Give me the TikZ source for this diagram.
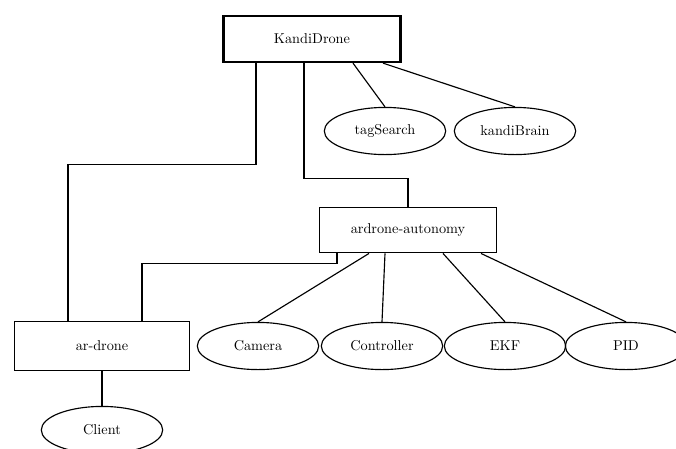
\documentclass[tikz,border=0pt]{standalone}
\usepackage{amsmath}
\usetikzlibrary{calc}
\usetikzlibrary{shapes.geometric}

\begin{document}
\begin{tikzpicture}[x=0.7pt, y=-0.7pt, thick,
    box/.style={draw, rectangle, minimum width=124pt, minimum height=32pt, inner sep=0pt},
    leaf/.style={draw, ellipse, minimum width=85pt, minimum height=33pt, inner sep=0pt}]

\clip (0, 0) rectangle (676, 448);

\begin{scope}[]
\node[box, line width=1.8pt] (kandi) at (312, 39) {KandiDrone};
\node[leaf] (tag) at (385, 131) {tagSearch};
\node[leaf] (brain) at (515, 131) {kandiBrain};
\end{scope}

\begin{scope}[]
\node[box] (auto) at (408, 230) {ardrone-autonomy};
\node[box, minimum width=122pt, minimum height=34pt] (ardrone) at (102, 346) {ar-drone};
\node[leaf] (cam) at (258, 346) {Camera};
\node[leaf] (ctrl) at (382, 346) {Controller};
\node[leaf] (ekf) at (505, 346) {EKF};
\node[leaf] (pid) at (626, 346) {PID};
\node[leaf] (client) at (102, 430) {Client};
\end{scope}

\draw ($(kandi.south)+(41, 0)$) -- (tag.north);
\draw ($(kandi.south)+(71, 0)$) -- (brain.north);
\draw ($(kandi.south)+(-56, 0)$) -- ++(0, 101) -| ($(ardrone.north)+(-34, 0)$);
\draw ($(kandi.south)+(-8, 0)$) -- ++(0, 115) -| (auto.north);

\draw ($(auto.south)+(-71, 0)$) -- ++(0, 10) -| ($(ardrone.north)+(40, 0)$);
\draw ($(auto.south)+(-39, 0)$) -- (cam.north);
\draw ($(auto.south)+(-23, 0)$) -- (ctrl.north);
\draw ($(auto.south)+(35, 0)$) -- (ekf.north);
\draw ($(auto.south)+(73, 0)$) -- (pid.north);

\draw (ardrone.south) -- (client.north);
\end{tikzpicture}
\end{document}
